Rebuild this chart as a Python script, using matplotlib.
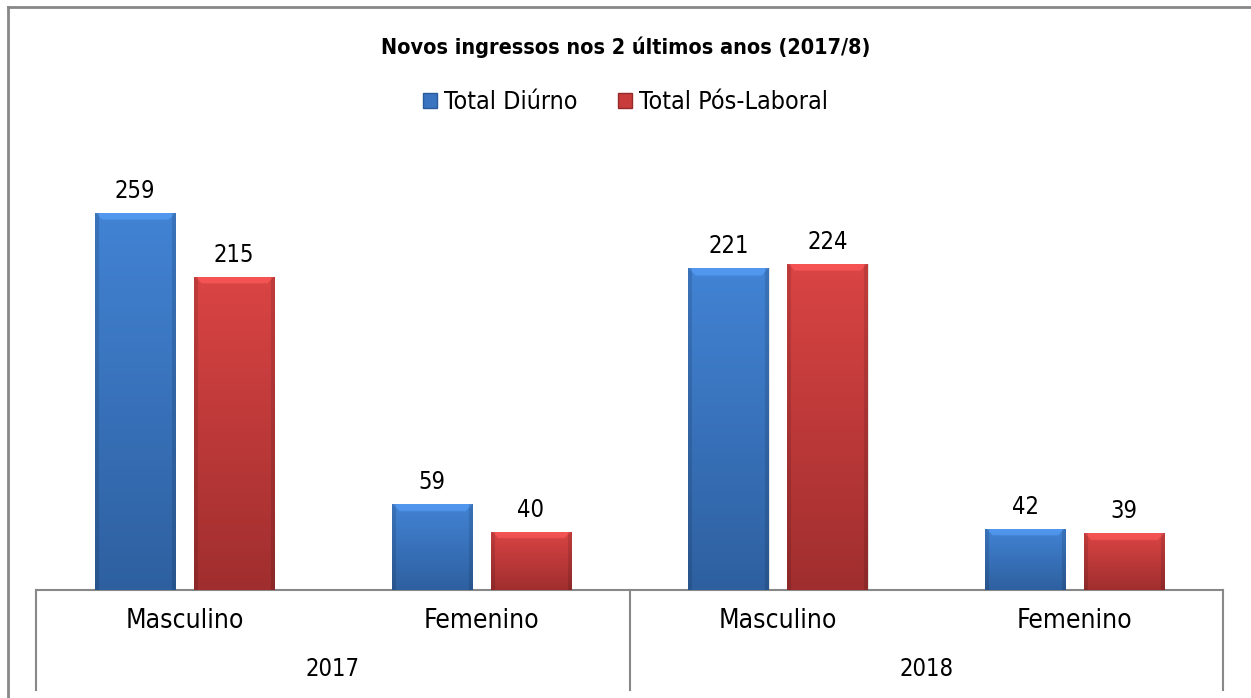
import numpy as np
import matplotlib.pyplot as plt
from matplotlib.patches import Patch
from matplotlib.lines import Line2D
import matplotlib.transforms as mtransforms
import matplotlib.font_manager as fm

years = ['2017', '2018']
sexes = ['Masculino', 'Femenino', 'Masculino', 'Femenino']
diurno = [259, 59, 221, 42]
pos_laboral = [215, 40, 224, 39]
series_names = ['Total Diúrno', 'Total Pós-Laboral']

plt.rcParams['font.family'] = ['DejaVu Sans']
# use the condensed DejaVu face when it is installed
cond = any(f.name == 'DejaVu Sans' and f.stretch == 'condensed' for f in fm.fontManager.ttflist)
stretch = 'condensed' if cond else 'normal'
plt.rcParams['font.stretch'] = stretch

W, H = 1251, 698
fig = plt.figure(figsize=(W / 100, H / 100), dpi=100)
ax = fig.add_axes([36 / W, 108 / H, (1223 - 36) / W, (590 - 153) / H])
ax.set_xlim(-0.5, 3.5)
ax.set_ylim(0, 300)

x = np.arange(len(sexes))
bw = 0.27
off = 0.167
top_cols = {'blue': np.array([66, 131, 212]) / 255, 'red': np.array([218, 68, 68]) / 255}
bot_cols = {'blue': np.array([46, 96, 160]) / 255, 'red': np.array([160, 46, 46]) / 255}
px_per_unit = (590 - 153) / 300.0


def gradient_bars(bars, key):
    for b in bars:
        x0, w, h = b.get_x(), b.get_width(), b.get_height()
        ny, nx = 300, 80
        t = np.linspace(1, 0, ny)[:, None]  # 1 at top
        img = bot_cols[key] + (top_cols[key] - bot_cols[key]) * t
        img = np.repeat(img[:, None, :], nx, axis=1)
        yy = np.linspace(h, 0, ny)[:, None] * np.ones((1, nx))
        xx = np.linspace(0, 1, nx)[None, :] * np.ones((ny, 1))
        edge = (xx < 0.04) | (xx > 0.96)
        img[edge] = img[edge] * 0.88
        depth = (h - yy) * px_per_unit  # pixels from top
        xpx = np.minimum(xx, 1 - xx) * w * 297  # pixels from side
        band = (depth < 7) & (xpx > depth)
        img[band] = np.clip(img[band] * 1.08 + 0.04, 0, 1)
        im = ax.imshow(img, extent=[x0, x0 + w, 0, h], aspect='auto', zorder=3,
                       interpolation='bilinear')
        im.set_clip_path(b)
        ax.bar(x0 + w / 2 + 0.004, h, w, color='#000000', alpha=0.1, zorder=2)


b1 = ax.bar(x - off, diurno, bw, color='#4080d0', zorder=3, label=series_names[0])
b2 = ax.bar(x + off, pos_laboral, bw, color='#d84444', zorder=3, label=series_names[1])
gradient_bars(b1, 'blue')
gradient_bars(b2, 'red')
ax.set_xlim(-0.5, 3.5)
ax.set_ylim(0, 300)

for bars, vals in [(b1, diurno), (b2, pos_laboral)]:
    for b, v in zip(bars, vals):
        ax.annotate(str(v), (b.get_x() + b.get_width() / 2, v), xytext=(0, 7),
                    textcoords='offset points', ha='center', va='bottom', fontsize=17)

for s in ['top', 'right', 'left']:
    ax.spines[s].set_visible(False)
ax.spines['bottom'].set_color('#888888')
ax.spines['bottom'].set_linewidth(1.5)
ax.set_yticks([])
ax.set_xticks(x)
ax.set_xticklabels(sexes, fontsize=19)
ax.tick_params(axis='x', length=0, pad=13)

trans = mtransforms.blended_transform_factory(ax.transData, ax.transAxes)
ax_h = 590 - 153
for i, yr in enumerate(years):
    ax.text(2 * i + 0.5, -(669 - 590) / ax_h, yr, transform=trans, ha='center', va='center', fontsize=17)
for xb in [-0.5, 1.5, 3.5]:
    ax.add_line(Line2D([xb, xb], [0, -(690 - 590) / ax_h], transform=trans, color='#888888',
                       lw=1.5, clip_on=False))

fig.text(0.5, 1 - 47 / H, 'Novos ingressos nos 2 últimos anos (2017/8)', ha='center', va='center',
         fontsize=15.5 if cond else 14.5, fontweight='bold')
handles = [Patch(facecolor='#3a74c0', edgecolor='#2a5a9a'), Patch(facecolor='#c83c3c', edgecolor='#962a2a')]
fig.legend(handles, series_names, loc='center', bbox_to_anchor=(0.5, 1 - 102 / H), ncol=2, frameon=False,
           fontsize=18 if cond else 16, handlelength=0.55, handleheight=0.55, handletextpad=0.3,
           columnspacing=1.6)

fig.add_artist(Line2D([8 / W, 8 / W], [0, 1 - 7 / H], transform=fig.transFigure, color='#888888', lw=2))
fig.add_artist(Line2D([8 / W, 1], [1 - 7 / H, 1 - 7 / H], transform=fig.transFigure, color='#888888', lw=2))

fig.savefig('out.png', dpi=100)
